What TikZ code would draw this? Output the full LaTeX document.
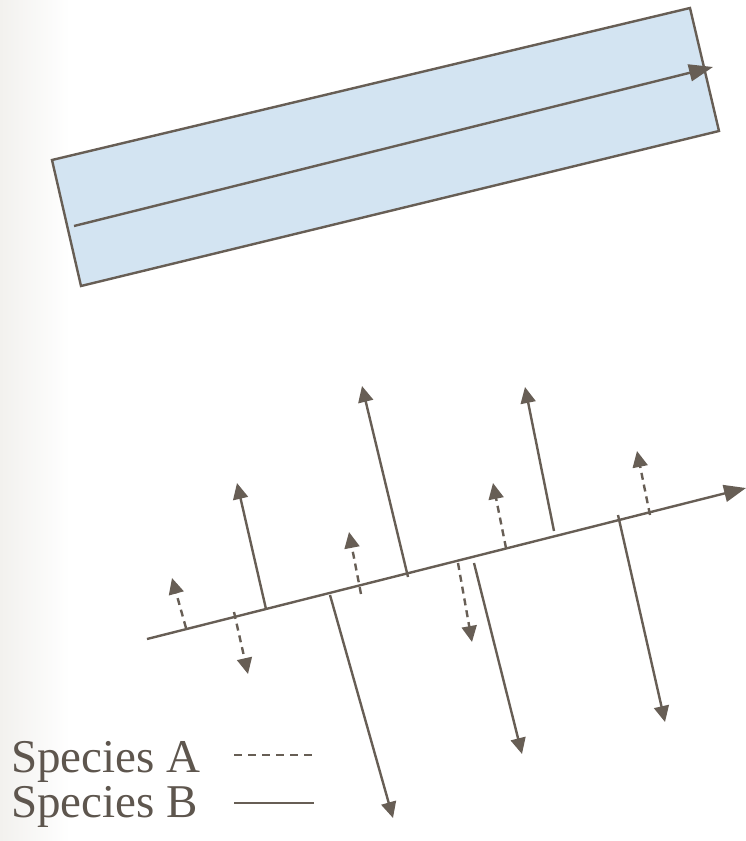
\documentclass[tikz,border=0pt]{standalone}
\usepackage{fontspec}
\setmainfont{Liberation Serif}
\usetikzlibrary{arrows.meta}
\definecolor{ink}{HTML}{675E55}
\definecolor{txt}{HTML}{5E564E}
\definecolor{band}{HTML}{D3E4F2}
\definecolor{bgl}{HTML}{F2F1EE}
\begin{document}
\begin{tikzpicture}[x=1pt,y=-1pt,
  ln/.style={draw=ink,line width=2.4pt},
  sp/.style={ln,-{Triangle[length=16pt,width=15pt]}},
  spa/.style={sp,dash pattern=on 7pt off 5pt},
  bigtip/.style={ln,-{Triangle[length=24pt,width=17pt]}},
  legtext/.style={anchor=base west,inner sep=0pt,text=txt,font=\fontsize{47}{47}\selectfont}
]
\useasboundingbox (0,0) rectangle (746,841);
\shade[left color=bgl,right color=white] (0,0) rectangle (70,841);

% band
\filldraw[fill=band,draw=ink,line width=2.4pt] (52,160) -- (690,8) -- (719,131) -- (81,286) -- cycle;
\coordinate (fs) at (74,226);
\coordinate (fe) at (713,67);
\draw[bigtip] (fs) -- (fe);

% axis
\coordinate (ax0) at (147,639);
\coordinate (ax1) at (746,488);
\draw[ln,-{Triangle[length=22pt,width=17pt]}] (ax0) -- (ax1);

% species A (dashed)
\coordinate (a1s) at (186,628); \coordinate (a1e) at (172,578);
\coordinate (a2s) at (234,612); \coordinate (a2e) at (248,674);
\coordinate (a3s) at (361,594); \coordinate (a3e) at (349,532);
\coordinate (a4s) at (506,548); \coordinate (a4e) at (493,483);
\coordinate (a5s) at (458,563); \coordinate (a5e) at (472,642);
\coordinate (a6s) at (650,515); \coordinate (a6e) at (637,451);
\foreach \i in {1,...,6} \draw[spa] (a\i s) -- (a\i e);

% species B (solid)
\coordinate (b1s) at (266,609); \coordinate (b1e) at (237,483);
\coordinate (b2s) at (330,595); \coordinate (b2e) at (393,818);
\coordinate (b3s) at (408,577); \coordinate (b3e) at (362,386);
\coordinate (b4s) at (474,563); \coordinate (b4e) at (522,754);
\coordinate (b5s) at (554,531); \coordinate (b5e) at (525,387);
\coordinate (b6s) at (618,515); \coordinate (b6e) at (665,722);
\foreach \i in {1,...,6} \draw[sp] (b\i s) -- (b\i e);

% legend
\node[legtext] (la) at (11,772) {Species A};
\node[legtext] (lb) at (11,817) {Species B};
\coordinate (lda) at (234,755); \coordinate (ldb) at (312,755);
\coordinate (lsa) at (234,803); \coordinate (lsb) at (314,803);
\draw[ln,dash pattern=on 8pt off 6pt] (lda) -- (ldb);
\draw[ln] (lsa) -- (lsb);
\end{tikzpicture}
\end{document}
